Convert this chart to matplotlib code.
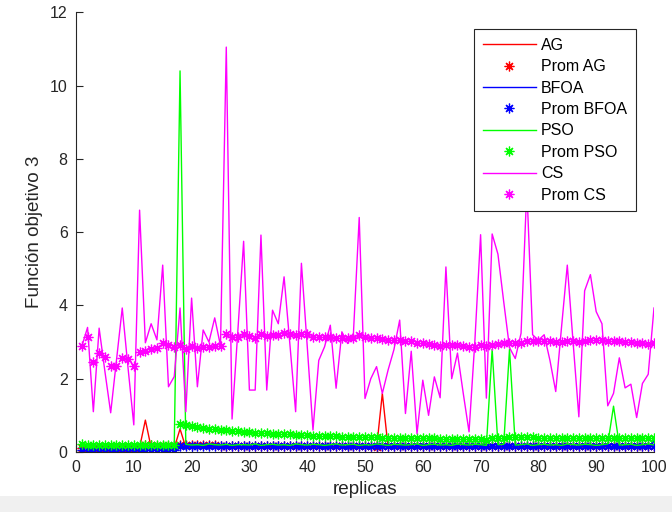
import numpy as np
import matplotlib.pyplot as plt
from matplotlib.patches import Rectangle

# replicas 1..100
replicas = np.arange(1, 101)

# Funcion objetivo 3 - AG
ag = [0.12,0.1,0.13,0.11,0.12,0.14,0.1,0.12,0.11,0.13,
      0.12,0.87,0.12,0.1,0.13,0.12,0.11,0.63,0.12,0.14,
      0.11,0.12,0.13,0.1,0.12,0.14,0.11,0.12,0.13,0.1,
      0.12,0.11,0.14,0.12,0.1,0.13,0.12,0.11,0.12,0.14,
      0.1,0.12,0.13,0.11,0.12,0.1,0.14,0.12,0.11,0.13,
      0.12,0.1,1.6,0.12,0.13,0.11,0.12,0.14,0.1,0.12,
      0.13,0.11,0.12,0.1,0.14,0.12,0.11,0.13,0.12,0.1,
      0.12,0.14,0.11,0.12,0.13,0.1,0.12,0.11,0.14,0.12,
      0.1,0.13,0.12,0.11,0.12,0.14,0.1,0.12,0.13,0.11,
      0.12,0.1,0.14,0.12,0.11,0.13,0.12,0.1,0.12,0.2]
prom_ag = [0.12,0.11,0.12,0.12,0.12,0.12,0.12,0.12,0.12,0.12,
           0.12,0.18,0.18,0.17,0.17,0.17,0.16,0.19,0.19,0.19,
           0.18,0.18,0.18,0.18,0.17,0.17,0.17,0.17,0.17,0.16,
           0.16,0.16,0.16,0.16,0.16,0.16,0.16,0.16,0.15,0.15,
           0.15,0.15,0.15,0.15,0.15,0.15,0.15,0.15,0.15,0.15,
           0.15,0.14,0.17,0.17,0.17,0.17,0.17,0.17,0.17,0.16,
           0.16,0.16,0.16,0.16,0.16,0.16,0.16,0.16,0.16,0.16,
           0.16,0.16,0.16,0.16,0.16,0.16,0.16,0.16,0.15,0.15,
           0.15,0.15,0.15,0.15,0.15,0.15,0.15,0.15,0.15,0.15,
           0.15,0.15,0.15,0.15,0.15,0.15,0.15,0.15,0.15,0.15]

# BFOA
bfoa = [0.05,0.04,0.06,0.05,0.04,0.05,0.06,0.05,0.04,0.05,
        0.06,0.05,0.04,0.05,0.06,0.05,0.04,0.2,0.08,0.22,
        0.09,0.2,0.08,0.21,0.1,0.19,0.08,0.22,0.09,0.2,
        0.08,0.21,0.1,0.2,0.08,0.22,0.09,0.19,0.08,0.21,
        0.1,0.2,0.08,0.22,0.09,0.2,0.08,0.21,0.1,0.19,
        0.08,0.22,0.09,0.2,0.08,0.21,0.1,0.2,0.08,0.22,
        0.09,0.19,0.08,0.21,0.1,0.2,0.08,0.22,0.09,0.2,
        0.08,0.21,0.1,0.19,0.08,0.22,0.09,0.2,0.08,0.21,
        0.1,0.2,0.08,0.22,0.09,0.19,0.08,0.21,0.1,0.2,
        0.08,0.22,0.09,0.2,0.08,0.21,0.1,0.19,0.08,0.3]
prom_bfoa = [0.05,0.05,0.05,0.05,0.05,0.05,0.05,0.05,0.05,0.05,
             0.05,0.05,0.05,0.05,0.05,0.05,0.05,0.15,0.15,0.15,
             0.15,0.15,0.15,0.15,0.15,0.15,0.15,0.15,0.15,0.15,
             0.15,0.15,0.15,0.15,0.15,0.15,0.15,0.15,0.15,0.15,
             0.15,0.15,0.15,0.15,0.15,0.15,0.15,0.15,0.15,0.15,
             0.15,0.15,0.15,0.15,0.15,0.15,0.15,0.15,0.15,0.15,
             0.15,0.15,0.15,0.15,0.15,0.15,0.15,0.15,0.15,0.15,
             0.15,0.15,0.15,0.15,0.15,0.15,0.15,0.15,0.15,0.15,
             0.15,0.15,0.15,0.15,0.15,0.15,0.15,0.15,0.15,0.15,
             0.15,0.15,0.15,0.15,0.15,0.15,0.15,0.15,0.15,0.15]

# PSO
pso = [0.22,0.18,0.2,0.17,0.21,0.2,0.19,0.23,0.18,0.2,
       0.21,0.17,0.2,0.22,0.19,0.18,0.2,10.4,0.21,0.19,
       0.2,0.18,0.22,0.2,0.19,0.21,0.18,0.2,0.2,0.19,
       0.22,0.18,0.2,0.21,0.19,0.2,0.18,0.22,0.2,0.19,
       0.21,0.2,0.18,0.2,0.22,0.19,0.2,0.21,0.18,0.2,
       0.19,0.22,0.2,0.18,0.21,0.2,0.19,0.2,0.22,0.18,
       0.2,0.21,0.19,0.2,0.18,0.22,0.2,0.19,0.21,0.2,
       0.18,2.8,0.2,0.21,2.8,0.19,0.2,0.22,0.18,0.2,
       0.21,0.19,0.2,0.18,0.22,0.2,0.19,0.21,0.2,0.18,
       0.2,0.22,1.25,0.19,0.2,0.21,0.18,0.2,0.22,0.19]
prom_pso = [0.22,0.2,0.2,0.19,0.2,0.2,0.2,0.2,0.2,0.2,
            0.2,0.2,0.2,0.2,0.2,0.2,0.2,0.77,0.74,0.71,
            0.69,0.66,0.64,0.63,0.61,0.59,0.58,0.56,0.55,0.54,
            0.53,0.52,0.51,0.5,0.49,0.48,0.48,0.47,0.46,0.46,
            0.45,0.44,0.44,0.43,0.43,0.42,0.42,0.41,0.41,0.4,
            0.4,0.4,0.39,0.39,0.39,0.38,0.38,0.38,0.37,0.37,
            0.37,0.37,0.36,0.36,0.36,0.36,0.35,0.35,0.35,0.35,
            0.34,0.38,0.38,0.37,0.41,0.4,0.4,0.4,0.4,0.39,
            0.39,0.39,0.39,0.38,0.38,0.38,0.38,0.38,0.37,0.37,
            0.37,0.37,0.38,0.38,0.37,0.37,0.37,0.37,0.37,0.37]

# CS
cs = [2.88,3.4,1.1,3.38,2.2,1.07,2.5,3.93,2.3,0.74,
      6.6,2.98,3.5,3.06,5.1,1.78,2.06,3.93,1.1,4.2,
      1.78,3.33,3.0,3.66,2.9,11.05,0.9,3.3,5.75,1.69,
      1.69,5.92,1.69,3.87,3.5,4.78,2.95,1.1,5.15,2.9,
      0.6,2.5,2.87,3.46,1.74,3.28,2.96,3.24,6.4,1.46,
      2.0,2.33,1.6,2.24,2.79,3.6,1.05,2.75,0.5,1.96,
      1.0,2.05,1.48,5.05,2.0,2.7,1.6,0.55,3.0,5.93,
      1.47,5.95,5.4,4.1,2.85,2.55,3.24,7.2,3.2,3.05,
      3.2,2.5,1.65,3.4,5.1,3.0,0.96,4.4,4.84,3.83,
      3.5,1.26,1.6,2.57,1.75,1.85,0.94,1.87,2.12,3.93]
prom_cs = [2.88,3.14,2.46,2.69,2.59,2.34,2.36,2.56,2.53,2.35,
           2.74,2.76,2.81,2.83,2.98,2.91,2.86,2.92,2.82,2.89,
           2.84,2.86,2.87,2.9,2.9,3.21,3.13,3.13,3.22,3.17,
           3.12,3.21,3.17,3.19,3.2,3.24,3.23,3.18,3.23,3.22,
           3.15,3.14,3.13,3.14,3.11,3.11,3.11,3.11,3.18,3.14,
           3.12,3.11,3.08,3.06,3.06,3.07,3.03,3.03,2.98,2.97,
           2.94,2.92,2.9,2.93,2.92,2.91,2.89,2.86,2.86,2.91,
           2.89,2.93,2.96,2.98,2.98,2.97,2.97,3.03,3.03,3.03,
           3.03,3.03,3.01,3.01,3.04,3.04,3.01,3.03,3.05,3.06,
           3.06,3.04,3.03,3.02,3.01,3.0,2.98,2.97,2.96,2.97]

plt.rcParams['font.family'] = ['Liberation Sans', 'DejaVu Sans']
fig = plt.figure(figsize=(6.72, 5.12), dpi=100)
fig.patches.append(Rectangle((0, 0), 1, 16/512, transform=fig.transFigure,
                             facecolor='#f0f0f0', edgecolor='none', zorder=-10))
ax = fig.add_axes([0.1131, 0.1172, 0.8601, 0.8588])

lw = 1.0
ast = (8, 2, 0)   # asterisco tipo MATLAB
ms = 7
mw = 0.9
ax.plot(replicas, ag, color='#ff0000', lw=lw, label='AG')
ax.plot(replicas, prom_ag, ls='none', marker=ast, color='#ff0000', ms=ms, mew=mw, label='Prom AG')
ax.plot(replicas, bfoa, color='#0000ff', lw=lw, label='BFOA')
ax.plot(replicas, prom_bfoa, ls='none', marker=ast, color='#0000ff', ms=ms, mew=mw, label='Prom BFOA')
ax.plot(replicas, pso, color='#00ff00', lw=lw, label='PSO')
ax.plot(replicas, prom_pso, ls='none', marker=ast, color='#00ff00', ms=ms, mew=mw, label='Prom PSO')
ax.plot(replicas, cs, color='#ff00ff', lw=lw, label='CS')
ax.plot(replicas, prom_cs, ls='none', marker=ast, color='#ff00ff', ms=ms, mew=mw, label='Prom CS')

ax.set_xlim(0, 100)
ax.set_ylim(0, 12)
ax.set_xticks(np.arange(0, 101, 10))
ax.set_yticks(np.arange(0, 13, 2))
axcol = '#262626'
for s in ['top', 'right']:
    ax.spines[s].set_visible(False)
for s in ['left', 'bottom']:
    ax.spines[s].set_color(axcol)
ax.tick_params(direction='in', length=5, colors=axcol, labelsize=11.5, pad=6)
ax.set_xlabel('replicas', fontsize=13.6, color=axcol, labelpad=4)
ax.set_ylabel('Función objetivo 3', fontsize=13.6, color=axcol, labelpad=5)

leg = ax.legend(loc='upper right', bbox_to_anchor=(636/672, 1 - 29/512),
                bbox_transform=fig.transFigure, fontsize=11.5, frameon=True,
                fancybox=False, edgecolor=axcol, framealpha=1,
                handlelength=3.3, handletextpad=0.35, labelspacing=0.4,
                borderpad=0.55, borderaxespad=0)
leg.get_frame().set_linewidth(0.8)

fig.savefig('out.png', dpi=100)
